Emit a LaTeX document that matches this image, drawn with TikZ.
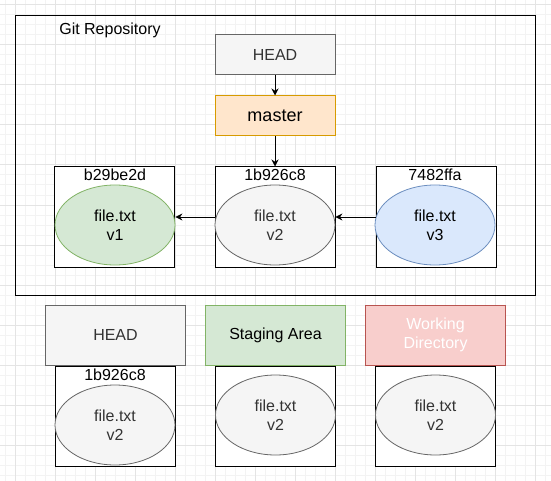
\documentclass[tikz,border=0pt]{standalone}
\usepackage{fontspec}
\setmainfont{Liberation Sans}
\usetikzlibrary{arrows.meta,positioning,shapes.geometric}

\definecolor{grayfill}{HTML}{F5F5F5}
\definecolor{graydraw}{HTML}{666666}
\definecolor{graytext}{HTML}{333333}
\definecolor{orangefill}{HTML}{FFE6CC}
\definecolor{orangedraw}{HTML}{D79B00}
\definecolor{greenfill}{HTML}{D5E8D4}
\definecolor{greendraw}{HTML}{82B366}
\definecolor{bluefill}{HTML}{DAE8FC}
\definecolor{bluedraw}{HTML}{6C8EBF}
\definecolor{redfill}{HTML}{F8CECC}
\definecolor{reddraw}{HTML}{B85450}
\definecolor{gridminor}{HTML}{F3F3F3}
\definecolor{gridmajor}{HTML}{E4E4E4}

\begin{document}
\begin{tikzpicture}[x=1pt, y=-1pt,
        every node/.style={font=\fontsize{16}{19}\selectfont},
        ref/.style={draw, rectangle, line width=1pt, minimum width=120pt, minimum height=40pt, inner sep=0pt},
        commit/.style={draw, rectangle, fill=white, line width=1pt, minimum width=120pt, minimum height=100pt, inner sep=0pt},
        blob/.style={draw, ellipse, line width=0.8pt, minimum width=120pt, minimum height=80pt, inner sep=0pt, align=center},
        hash/.style={inner sep=0pt},
        area/.style={draw, rectangle, line width=1pt, minimum width=140pt, minimum height=60pt, inner sep=0pt, align=center},
        arrow/.style={-{Stealth[length=7pt, width=7pt]}, line width=0.9pt}
    ]
        \useasboundingbox (0,0) rectangle (551,481);

        % Grade de fundo
        \foreach \gx in {5,15,...,545}
            \draw[gridminor, line width=1pt] (\gx,0) -- (\gx,481);
        \foreach \gy in {5,15,...,475}
            \draw[gridminor, line width=1pt] (0,\gy) -- (551,\gy);
        \foreach \gx in {15,55,...,535}
            \draw[gridmajor, line width=1pt] (\gx,0) -- (\gx,481);
        \foreach \gy in {5,45,...,445}
            \draw[gridmajor, line width=1pt] (0,\gy) -- (551,\gy);

        % Repositorio
        \node[draw, rectangle, line width=1pt, minimum width=520pt, minimum height=280pt, anchor=north west] (repo) at (15,15) {};
        \node[hash] (title) at (110,30) {Git Repository};

        % Referencias
        \node[ref, fill=grayfill, draw=graydraw, text=graytext] (head) at (275,55) {HEAD};
        \node[ref, fill=orangefill, draw=orangedraw, below=20pt of head, font=\fontsize{18}{21}\selectfont] (master) {master};

        % Commits
        \node[commit, below=30pt of master] (c2) {};
        \node[commit, left=40pt of c2] (c1) {};
        \node[commit, right=40pt of c2] (c3) {};

        \node[hash] (h1) at (115,175) {b29be2d};
        \node[hash] (h2) at (275,175) {1b926c8};
        \node[hash] (h3) at (435,175) {7482ffa};

        \node[blob, fill=greenfill, draw=greendraw] (e1) at (115,225) {file.txt\\v1};
        \node[blob, fill=grayfill, draw=graydraw, text=graytext] (e2) at (275,225) {file.txt\\v2};
        \node[blob, fill=bluefill, draw=bluedraw] (e3) at (435,225) {file.txt\\v3};

        % Conexoes
        \draw[arrow] (head) -- (master);
        \draw[arrow] (master) -- (c2);
        \draw[arrow] (c2.west) -- (c2.west -| e1.east);
        \draw[arrow] (c3.west) -- (c3.west -| e2.east);

        % Areas
        \node[area, fill=grayfill, draw=graydraw, text=graytext] (ahead) at (115.5,335) {HEAD};
        \node[area, fill=greenfill, draw=greendraw] (astage) at (275.5,335) {Staging Area};
        \node[area, fill=redfill, draw=reddraw, text=white] (awork) at (435.5,335) {Working\\Directory};

        \node[commit, below=0pt of ahead] (b1) {};
        \node[commit, below=0pt of astage] (b2) {};
        \node[commit, below=0pt of awork] (b3) {};

        \node[hash] (h4) at (115,375) {1b926c8};
        \node[blob, fill=grayfill, draw=graydraw, text=graytext] (f1) at (115,425) {file.txt\\v2};
        \node[blob, fill=grayfill, draw=graydraw, text=graytext] (f2) at (275.5,415) {file.txt\\v2};
        \node[blob, fill=grayfill, draw=graydraw, text=graytext] (f3) at (435.5,415) {file.txt\\v2};
    \end{tikzpicture}
\end{document}
